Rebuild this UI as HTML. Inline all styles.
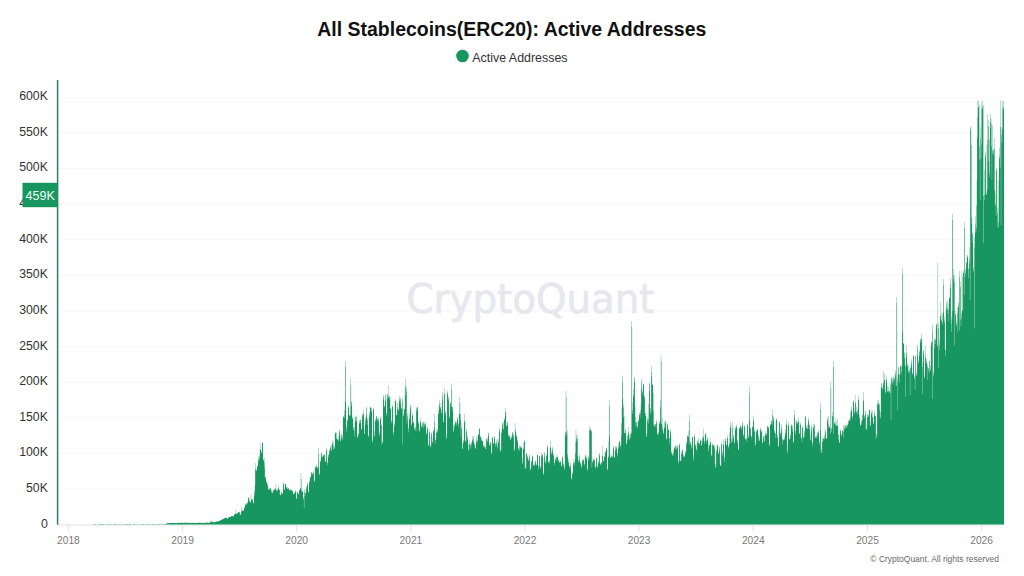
<!DOCTYPE html>
<html><head><meta charset="utf-8"><title>All Stablecoins(ERC20): Active Addresses</title>
<style>
html,body{margin:0;padding:0;background:#fff;}
body{width:1024px;height:576px;overflow:hidden;position:relative;font-family:"Liberation Sans",Arial,sans-serif;}
svg{position:absolute;left:0;top:0;}
</style></head><body>
<svg width="1024" height="576" viewBox="0 0 1024 576">
<rect width="1024" height="576" fill="#fff"/>
<text x="317.3" y="36.2" textLength="389" lengthAdjust="spacingAndGlyphs" font-family="Liberation Sans, Arial, sans-serif" font-weight="bold" font-size="20" fill="#111">All Stablecoins(ERC20): Active Addresses</text>
<circle cx="462.5" cy="56" r="6.3" fill="#17965f"/>
<text x="472.3" y="61.9" textLength="95.2" lengthAdjust="spacingAndGlyphs" font-family="Liberation Sans, Arial, sans-serif" font-size="13" fill="#333">Active Addresses</text>
<g><line x1="58.5" y1="489.0" x2="1004" y2="489.0" stroke="#f7f7f7" stroke-width="1"/><line x1="58.5" y1="453.4" x2="1004" y2="453.4" stroke="#f7f7f7" stroke-width="1"/><line x1="58.5" y1="417.8" x2="1004" y2="417.8" stroke="#f7f7f7" stroke-width="1"/><line x1="58.5" y1="382.1" x2="1004" y2="382.1" stroke="#f7f7f7" stroke-width="1"/><line x1="58.5" y1="346.5" x2="1004" y2="346.5" stroke="#f7f7f7" stroke-width="1"/><line x1="58.5" y1="310.9" x2="1004" y2="310.9" stroke="#f7f7f7" stroke-width="1"/><line x1="58.5" y1="275.3" x2="1004" y2="275.3" stroke="#f7f7f7" stroke-width="1"/><line x1="58.5" y1="239.7" x2="1004" y2="239.7" stroke="#f7f7f7" stroke-width="1"/><line x1="58.5" y1="204.0" x2="1004" y2="204.0" stroke="#f7f7f7" stroke-width="1"/><line x1="58.5" y1="168.4" x2="1004" y2="168.4" stroke="#f7f7f7" stroke-width="1"/><line x1="58.5" y1="132.8" x2="1004" y2="132.8" stroke="#f7f7f7" stroke-width="1"/><line x1="58.5" y1="97.2" x2="1004" y2="97.2" stroke="#f7f7f7" stroke-width="1"/></g>
<text x="406.5" y="313.2" textLength="248" lengthAdjust="spacingAndGlyphs" font-family="DejaVu Sans, sans-serif" font-size="40" fill="#e7e7ed" stroke="#e7e7ed" stroke-width="0.7">CryptoQuant</text>
<line x1="58.5" y1="525" x2="1004" y2="525" stroke="#e2e2e2" stroke-width="1"/>
<path d="M58.60,524.6V524.6H58.91V524.6H59.23V524.6H59.54V524.6H59.85V524.6H60.16V524.6H60.48V524.6H60.79V524.6H61.10V524.6H61.41V524.6H61.73V524.6H62.04V524.6H62.35V524.6H62.66V524.6H62.98V524.6H63.29V524.6H63.60V524.6H63.91V524.6H64.23V524.6H64.54V524.6H64.85V524.6H65.16V524.6H65.48V524.6H65.79V524.6H66.10V524.6H66.41V524.6H66.73V524.6H67.04V524.6H67.35V524.6H67.66V524.6H67.98V524.6H68.29V524.6H68.60V524.6H68.91V524.6H69.23V524.6H69.54V524.6H69.85V524.6H70.16V524.6H70.48V524.6H70.79V524.6H71.10V524.6H71.41V524.6H71.73V524.6H72.04V524.6H72.35V524.6H72.66V524.6H72.98V524.6H73.29V524.6H73.60V524.6H73.91V524.6H74.23V524.6H74.54V524.6H74.85V524.6H75.16V524.6H75.48V524.6H75.79V524.6H76.10V524.6H76.41V524.6H76.73V524.6H77.04V524.6H77.35V524.6H77.66V524.6H77.98V524.6H78.29V524.6H78.60V524.6H78.91V524.6H79.23V524.6H79.54V524.6H79.85V524.6H80.16V524.6H80.48V524.6H80.79V524.6H81.10V524.6H81.41V524.6H81.73V524.6H82.04V524.6H82.35V524.6H82.66V524.6H82.98V524.6H83.29V524.6H83.60V524.6H83.91V524.6H84.23V524.6H84.54V524.6H84.85V524.6H85.16V524.6H85.48V524.6H85.79V524.6H86.10V524.6H86.41V524.6H86.73V524.6H87.04V524.6H87.35V524.6H87.66V524.6H87.98V524.6H88.29V524.6H88.60V524.6H88.91V524.6H89.23V524.6H89.54V524.6H89.85V524.6H90.17V524.6H90.48V524.6H90.79V524.6H91.10V524.6H91.42V524.6H91.73V524.6H92.04V524.6H92.35V524.6H92.67V524.6H92.98V524.0H93.29V524.6H93.60V524.6H93.92V524.0H94.23V524.0H94.54V524.0H94.85V524.6H95.17V524.6H95.48V524.0H95.79V524.6H96.10V524.0H96.42V524.6H96.73V524.6H97.04V524.6H97.35V524.6H97.67V524.6H97.98V524.0H98.29V524.6H98.60V524.0H98.92V524.6H99.23V524.0H99.54V524.6H99.85V524.0H100.17V524.0H100.48V524.0H100.79V524.0H101.10V524.0H101.42V524.6H101.73V524.0H102.04V524.1H102.35V524.6H102.67V524.6H102.98V524.0H103.29V524.0H103.60V524.0H103.92V524.6H104.23V524.1H104.54V524.6H104.85V524.6H105.17V524.6H105.48V524.6H105.79V524.6H106.10V524.0H106.42V524.0H106.73V524.6H107.04V524.0H107.35V524.0H107.67V524.6H107.98V524.0H108.29V524.6H108.60V524.0H108.92V524.6H109.23V524.0H109.54V524.6H109.85V524.6H110.17V524.0H110.48V524.6H110.79V524.0H111.10V524.0H111.42V524.6H111.73V524.0H112.04V524.6H112.35V524.6H112.67V524.6H112.98V524.0H113.29V524.6H113.60V524.0H113.92V524.1H114.23V524.0H114.54V524.6H114.85V524.0H115.17V524.0H115.48V524.0H115.79V524.6H116.10V524.0H116.42V524.0H116.73V524.6H117.04V524.1H117.35V524.6H117.67V524.6H117.98V524.6H118.29V524.0H118.60V524.6H118.92V524.6H119.23V524.0H119.54V524.1H119.86V524.6H120.17V524.0H120.48V524.6H120.79V524.0H121.11V524.6H121.42V524.6H121.73V524.6H122.04V524.0H122.36V524.6H122.67V524.0H122.98V524.6H123.29V524.0H123.61V524.6H123.92V524.6H124.23V524.1H124.54V524.6H124.86V524.6H125.17V524.1H125.48V524.0H125.79V524.0H126.11V524.6H126.42V524.1H126.73V524.6H127.04V524.0H127.36V524.0H127.67V524.0H127.98V524.6H128.29V524.0H128.61V524.0H128.92V524.6H129.23V524.0H129.54V524.0H129.86V524.1H130.17V524.6H130.48V524.1H130.79V524.1H131.11V524.6H131.42V524.6H131.73V524.0H132.04V524.6H132.36V524.6H132.67V524.6H132.98V524.0H133.29V524.6H133.61V524.6H133.92V524.0H134.23V524.0H134.54V524.0H134.86V524.0H135.17V524.6H135.48V524.6H135.79V524.6H136.11V524.6H136.42V524.6H136.73V523.9H137.04V524.6H137.36V524.6H137.67V524.0H137.98V524.0H138.29V524.6H138.61V524.0H138.92V524.6H139.23V524.0H139.54V524.6H139.86V524.6H140.17V524.0H140.48V524.6H140.79V524.6H141.11V524.6H141.42V524.6H141.73V524.1H142.04V524.1H142.36V524.1H142.67V524.1H142.98V524.6H143.29V523.9H143.61V524.0H143.92V524.0H144.23V524.6H144.54V524.6H144.86V524.6H145.17V524.6H145.48V524.0H145.79V524.0H146.11V524.0H146.42V524.0H146.73V524.6H147.04V524.6H147.36V524.6H147.67V524.6H147.98V524.0H148.29V524.1H148.61V524.6H148.92V524.0H149.23V524.6H149.54V524.0H149.86V524.0H150.17V524.6H150.48V524.0H150.80V524.6H151.11V524.6H151.42V524.0H151.73V524.6H152.05V524.0H152.36V524.0H152.67V524.0H152.98V524.6H153.30V524.0H153.61V524.6H153.92V524.1H154.23V524.6H154.55V524.0H154.86V524.6H155.17V524.1H155.48V524.6H155.80V524.6H156.11V524.1H156.42V524.6H156.73V524.1H157.05V524.0H157.36V524.6H157.67V524.0H157.98V524.6H158.30V524.6H158.61V524.0H158.92V524.1H159.23V524.1H159.55V524.1H159.86V524.6H160.17V524.0H160.48V524.0H160.80V524.6H161.11V524.0H161.42V524.6H161.73V524.6H162.05V524.0H162.36V524.0H162.67V524.6H162.98V524.0H163.30V524.6H163.61V524.0H163.92V524.6H164.23V524.0H164.55V524.0H164.86V524.1H165.17V524.1H165.48V524.1H165.80V524.1H166.11V523.9H166.42V523.8H166.73V523.6H167.05V523.2H167.36V523.0H167.67V522.9H167.98V523.2H168.30V523.3H168.61V523.3H168.92V522.9H169.23V523.0H169.55V523.0H169.86V522.9H170.17V522.9H170.48V522.9H170.80V522.9H171.11V523.0H171.42V522.9H171.73V523.0H172.05V523.0H172.36V523.1H172.67V523.1H172.98V522.9H173.30V522.9H173.61V522.9H173.92V522.9H174.23V522.9H174.55V522.9H174.86V522.9H175.17V522.9H175.48V522.9H175.80V522.9H176.11V523.1H176.42V523.2H176.73V523.2H177.05V522.9H177.36V522.9H177.67V522.9H177.98V523.0H178.30V523.0H178.61V523.0H178.92V522.9H179.23V523.0H179.55V523.0H179.86V522.8H180.17V522.8H180.49V522.9H180.80V522.9H181.11V522.8H181.42V522.6H181.74V522.8H182.05V522.8H182.36V522.8H182.67V522.8H182.99V522.9H183.30V523.0H183.61V523.0H183.92V522.8H184.24V522.8H184.55V522.8H184.86V522.8H185.17V522.7H185.49V522.7H185.80V522.8H186.11V522.7H186.42V522.8H186.74V522.7H187.05V522.7H187.36V522.7H187.67V522.7H187.99V522.9H188.30V522.9H188.61V522.8H188.92V522.9H189.24V522.9H189.55V522.8H189.86V522.8H190.17V522.8H190.49V522.8H190.80V522.8H191.11V523.1H191.42V523.1H191.74V523.1H192.05V522.8H192.36V522.8H192.67V522.8H192.99V522.9H193.30V522.9H193.61V523.0H193.92V522.9H194.24V522.9H194.55V522.9H194.86V523.1H195.17V523.1H195.49V523.2H195.80V523.1H196.11V523.0H196.42V523.0H196.74V523.0H197.05V522.9H197.36V522.8H197.67V522.8H197.99V522.8H198.30V522.7H198.61V522.8H198.92V522.7H199.24V522.7H199.55V522.8H199.86V522.9H200.17V522.8H200.49V522.8H200.80V522.8H201.11V522.9H201.42V522.8H201.74V522.9H202.05V523.0H202.36V522.9H202.67V523.0H202.99V522.7H203.30V522.8H203.61V522.8H203.92V522.8H204.24V522.9H204.55V522.9H204.86V522.9H205.17V522.7H205.49V522.7H205.80V522.7H206.11V522.6H206.42V522.6H206.74V522.6H207.05V522.8H207.36V522.8H207.67V522.8H207.99V523.0H208.30V523.1H208.61V523.1H208.92V522.9H209.24V522.6H209.55V522.6H209.86V522.5H210.17V522.3H210.49V522.2H210.80V520.0H211.11V521.8H211.43V522.1H211.74V522.0H212.05V521.5H212.36V521.6H212.68V521.8H212.99V521.9H213.30V522.0H213.61V522.0H213.93V522.5H214.24V522.6H214.55V522.5H214.86V521.9H215.18V521.9H215.49V521.8H215.80V521.7H216.11V521.5H216.43V521.4H216.74V521.4H217.05V521.5H217.36V521.5H217.68V521.4H217.99V521.4H218.30V521.3H218.61V521.2H218.93V521.0H219.24V520.8H219.55V520.8H219.86V520.5H220.18V520.4H220.49V520.2H220.80V520.2H221.11V520.1H221.43V519.8H221.74V519.6H222.05V519.2H222.36V519.2H222.68V519.2H222.99V518.9H223.30V518.9H223.61V518.8H223.93V518.2H224.24V518.4H224.55V518.2H224.86V518.0H225.18V517.8H225.49V517.8H225.80V517.6H226.11V518.0H226.43V518.0H226.74V517.5H227.05V518.7H227.36V518.7H227.68V518.7H227.99V517.7H228.30V517.7H228.61V517.3H228.93V517.1H229.24V516.5H229.55V517.0H229.86V517.2H230.18V517.2H230.49V517.0H230.80V517.2H231.11V516.1H231.43V515.6H231.74V515.9H232.05V516.4H232.36V516.1H232.68V515.9H232.99V516.3H233.30V516.6H233.61V516.1H233.93V514.7H234.24V514.5H234.55V514.0H234.86V514.4H235.18V514.0H235.49V513.4H235.80V509.3H236.11V513.8H236.43V513.9H236.74V513.7H237.05V513.2H237.36V512.9H237.68V512.8H237.99V512.4H238.30V512.1H238.61V512.1H238.93V512.5H239.24V512.3H239.55V511.6H239.86V514.9H240.18V514.5H240.49V514.4H240.80V514.6H241.11V506.0H241.43V512.0H241.74V510.3H242.05V510.5H242.37V510.6H242.68V510.6H242.99V510.7H243.30V511.1H243.62V510.5H243.93V508.0H244.24V507.9H244.55V507.5H244.87V505.3H245.18V505.2H245.49V503.9H245.80V503.3H246.12V504.9H246.43V503.6H246.74V503.6H247.05V503.0H247.37V503.5H247.68V501.8H247.99V497.9H248.30V497.0H248.62V497.7H248.93V501.4H249.24V500.5H249.55V500.2H249.87V503.1H250.18V501.7H250.49V502.7H250.80V494.3H251.12V498.8H251.43V498.9H251.74V500.4H252.05V498.8H252.37V499.6H252.68V500.4H252.99V503.1H253.30V503.7H253.62V503.1H253.93V496.1H254.24V493.2H254.55V490.4H254.87V484.9H255.18V463.0H255.49V469.0H255.80V469.4H256.12V469.5H256.43V470.5H256.74V470.8H257.05V465.5H257.37V466.5H257.68V465.9H257.99V462.1H258.30V459.2H258.62V455.8H258.93V459.9H259.24V458.0H259.55V455.6H259.87V449.3H260.18V443.0H260.49V449.0H260.80V450.2H261.12V451.9H261.43V451.7H261.74V453.4H262.05V442.9H262.37V442.3H262.68V443.0H262.99V459.9H263.30V459.1H263.62V460.9H263.93V456.8H264.24V462.4H264.55V467.6H264.87V476.9H265.18V476.4H265.49V477.5H265.80V478.8H266.12V482.5H266.43V481.4H266.74V481.9H267.05V484.2H267.37V483.6H267.68V486.6H267.99V488.3H268.30V490.0H268.62V489.4H268.93V489.6H269.24V489.3H269.55V487.5H269.87V488.7H270.18V487.9H270.49V489.3H270.80V488.0H271.12V491.3H271.43V490.6H271.74V492.9H272.06V491.9H272.37V492.4H272.68V493.5H272.99V490.4H273.31V489.4H273.62V490.5H273.93V490.5H274.24V489.4H274.56V489.4H274.87V488.0H275.18V489.2H275.49V488.7H275.81V484.0H276.12V490.7H276.43V490.8H276.74V489.7H277.06V488.2H277.37V490.0H277.68V491.0H277.99V485.7H278.31V488.9H278.62V488.1H278.93V489.7H279.24V490.0H279.56V490.1H279.87V494.8H280.18V495.4H280.49V494.5H280.81V494.8H281.12V491.0H281.43V492.1H281.74V493.0H282.06V493.8H282.37V493.1H282.68V493.7H282.99V484.3H283.31V483.9H283.62V482.3H283.93V489.4H284.24V489.4H284.56V489.5H284.87V484.0H285.18V483.8H285.49V484.6H285.81V484.3H286.12V487.4H286.43V486.9H286.74V488.1H287.06V487.0H287.37V489.1H287.68V488.9H287.99V488.5H288.31V487.8H288.62V488.4H288.93V489.9H289.24V490.5H289.56V490.2H289.87V490.6H290.18V489.2H290.49V489.5H290.81V490.4H291.12V490.0H291.43V489.9H291.74V490.5H292.06V491.6H292.37V490.3H292.68V491.7H292.99V494.3H293.31V493.7H293.62V494.0H293.93V493.2H294.24V492.8H294.56V493.8H294.87V490.9H295.18V491.9H295.49V489.7H295.81V491.7H296.12V497.9H296.43V498.9H296.74V499.0H297.06V492.7H297.37V492.2H297.68V491.6H297.99V493.9H298.31V494.5H298.62V493.8H298.93V491.2H299.24V489.9H299.56V490.0H299.87V488.9H300.18V488.3H300.49V487.9H300.81V473.0H301.12V479.0H301.43V490.7H301.74V491.5H302.06V489.6H302.37V491.9H302.68V491.8H303.00V497.0H303.31V499.6H303.62V498.2H303.93V508.0H304.25V491.8H304.56V488.9H304.87V495.9H305.18V493.2H305.50V493.0H305.81V492.7H306.12V488.9H306.43V487.1H306.75V486.6H307.06V484.7H307.37V484.8H307.68V482.7H308.00V491.8H308.31V492.6H308.62V491.1H308.93V481.9H309.25V483.0H309.56V480.4H309.87V476.8H310.18V478.2H310.50V476.5H310.81V476.8H311.12V473.2H311.43V472.1H311.75V472.5H312.06V473.6H312.37V475.0H312.68V473.0H313.00V471.1H313.31V472.6H313.62V473.7H313.93V481.3H314.25V481.7H314.56V479.7H314.87V468.0H315.18V466.4H315.50V467.0H315.81V467.8H316.12V466.9H316.43V465.5H316.75V465.2H317.06V467.6H317.37V467.5H317.68V468.7H318.00V448.0H318.31V454.0H318.62V466.9H318.93V475.2H319.25V473.0H319.56V474.5H319.87V461.3H320.18V460.9H320.50V462.2H320.81V458.1H321.12V454.3H321.43V452.9H321.75V452.4H322.06V456.4H322.37V457.0H322.68V456.5H323.00V456.5H323.31V454.0H323.62V455.4H323.93V455.0H324.25V454.5H324.56V454.6H324.87V459.9H325.18V461.9H325.50V461.6H325.81V462.1H326.12V450.9H326.43V449.2H326.75V448.8H327.06V465.2H327.37V461.8H327.68V462.4H328.00V454.4H328.31V455.0H328.62V457.1H328.93V454.0H329.25V449.1H329.56V450.7H329.87V450.4H330.18V447.2H330.50V447.6H330.81V444.7H331.12V451.1H331.43V449.5H331.75V445.0H332.06V444.0H332.37V442.8H332.69V440.3H333.00V446.2H333.31V449.3H333.62V442.0H333.94V448.9H334.25V448.3H334.56V446.3H334.87V432.8H335.19V432.4H335.50V433.9H335.81V431.5H336.12V433.1H336.44V438.3H336.75V438.9H337.06V440.3H337.37V439.2H337.69V439.0H338.00V441.3H338.31V436.8H338.62V439.9H338.94V432.5H339.25V431.0H339.56V429.5H339.87V435.5H340.19V440.8H340.50V441.6H340.81V439.1H341.12V435.2H341.44V432.9H341.75V437.2H342.06V440.0H342.37V434.6H342.69V438.6H343.00V417.4H343.31V416.4H343.62V416.7H343.94V414.8H344.25V410.2H344.56V418.2H344.87V401.3H345.19V360.7H345.50V366.7H345.81V402.5H346.12V428.4H346.44V425.8H346.75V432.4H347.06V420.3H347.37V420.7H347.69V418.9H348.00V406.9H348.31V405.6H348.62V407.9H348.94V414.2H349.25V415.7H349.56V415.5H349.87V415.4H350.19V415.2H350.50V379.0H350.81V385.0H351.12V402.6H351.44V406.0H351.75V401.0H352.06V419.0H352.37V416.7H352.69V418.3H353.00V427.2H353.31V427.8H353.62V429.9H353.94V430.8H354.25V427.0H354.56V436.7H354.87V416.7H355.19V416.6H355.50V420.4H355.81V421.7H356.12V415.3H356.44V421.2H356.75V416.9H357.06V436.1H357.37V437.7H357.69V437.5H358.00V433.9H358.31V433.4H358.62V435.5H358.94V423.7H359.25V422.9H359.56V419.9H359.87V420.0H360.19V423.0H360.50V419.9H360.81V418.9H361.12V429.7H361.44V428.6H361.75V429.2H362.06V417.1H362.37V414.9H362.69V413.0H363.00V414.7H363.31V409.5H363.63V413.8H363.94V428.8H364.25V433.3H364.56V434.1H364.88V420.0H365.19V424.8H365.50V418.6H365.81V417.6H366.13V407.7H366.44V414.7H366.75V407.1H367.06V420.3H367.38V417.8H367.69V424.8H368.00V436.1H368.31V436.9H368.63V434.4H368.94V414.5H369.25V417.0H369.56V412.4H369.88V406.4H370.19V407.6H370.50V407.6H370.81V408.3H371.13V407.2H371.44V411.0H371.75V412.0H372.06V438.8H372.38V440.9H372.69V442.8H373.00V408.4H373.31V408.5H373.63V409.5H373.94V435.8H374.25V436.7H374.56V430.9H374.88V418.5H375.19V420.1H375.50V421.5H375.81V420.2H376.13V415.9H376.44V415.7H376.75V417.6H377.06V418.3H377.38V418.9H377.69V420.5H378.00V419.7H378.31V421.6H378.63V417.2H378.94V435.8H379.25V434.1H379.56V431.4H379.88V417.9H380.19V419.7H380.50V418.2H380.81V415.3H381.13V425.1H381.44V425.5H381.75V444.7H382.06V441.6H382.38V442.6H382.69V442.8H383.00V399.5H383.31V396.7H383.63V394.8H383.94V407.6H384.25V405.8H384.56V406.6H384.88V401.8H385.19V399.8H385.50V394.7H385.81V394.4H386.13V412.4H386.44V415.9H386.75V414.1H387.06V393.6H387.38V394.7H387.69V398.7H388.00V397.2H388.31V396.6H388.63V385.0H388.94V396.5H389.25V395.4H389.56V399.2H389.88V396.9H390.19V408.5H390.50V408.5H390.81V408.8H391.13V423.4H391.44V420.5H391.75V421.1H392.06V404.8H392.38V407.0H392.69V406.8H393.00V432.4H393.31V435.0H393.63V431.5H393.94V427.1H394.25V422.5H394.57V424.6H394.88V399.0H395.19V400.9H395.50V400.5H395.82V402.5H396.13V415.6H396.44V415.1H396.75V414.9H397.07V409.5H397.38V407.1H397.69V402.7H398.00V408.9H398.32V409.9H398.63V411.4H398.94V401.3H399.25V395.8H399.57V399.0H399.88V402.6H400.19V399.3H400.50V397.4H400.82V404.8H401.13V407.9H401.44V408.6H401.75V408.7H402.07V400.7H402.38V444.7H402.69V397.4H403.00V415.4H403.32V415.8H403.63V413.3H403.94V408.6H404.25V409.3H404.57V409.3H404.88V387.5H405.19V395.6H405.50V379.0H405.82V385.0H406.13V388.3H406.44V391.8H406.75V423.4H407.07V413.1H407.38V419.4H407.69V415.8H408.00V427.1H408.32V429.1H408.63V432.5H408.94V413.9H409.25V418.7H409.57V419.4H409.88V410.6H410.19V407.8H410.50V405.2H410.82V404.4H411.13V423.2H411.44V425.9H411.75V424.3H412.07V414.8H412.38V412.9H412.69V416.1H413.00V422.7H413.32V421.2H413.63V422.6H413.94V424.3H414.25V428.1H414.57V429.9H414.88V429.7H415.19V426.4H415.50V427.4H415.82V431.2H416.13V407.4H416.44V411.4H416.75V408.3H417.07V406.6H417.38V409.4H417.69V407.6H418.00V421.3H418.32V422.4H418.63V423.7H418.94V430.2H419.25V431.1H419.57V431.4H419.88V421.6H420.19V418.2H420.50V422.2H420.82V423.1H421.13V426.3H421.44V426.2H421.75V428.6H422.07V425.7H422.38V423.8H422.69V421.7H423.00V422.0H423.32V422.5H423.63V428.1H423.94V424.1H424.26V426.6H424.57V422.7H424.88V423.8H425.19V421.5H425.51V424.7H425.82V426.2H426.13V434.2H426.44V433.1H426.76V433.9H427.07V427.7H427.38V427.4H427.69V429.7H428.01V445.6H428.32V444.2H428.63V445.7H428.94V429.6H429.26V432.3H429.57V432.4H429.88V443.9H430.19V447.4H430.51V445.4H430.82V446.5H431.13V432.2H431.44V433.2H431.76V435.4H432.07V442.4H432.38V438.2H432.69V442.3H433.01V432.2H433.32V430.2H433.63V430.4H433.94V427.5H434.26V413.6H434.57V421.9H434.88V444.2H435.19V440.2H435.51V439.5H435.82V439.1H436.13V432.7H436.44V432.4H436.76V428.9H437.07V432.2H437.38V430.5H437.69V429.3H438.01V414.1H438.32V413.5H438.63V409.9H438.94V405.7H439.26V399.6H439.57V403.4H439.88V409.2H440.19V407.7H440.51V407.1H440.82V403.1H441.13V413.2H441.44V413.3H441.76V409.7H442.07V395.7H442.38V400.6H442.69V391.8H443.01V422.3H443.32V422.2H443.63V418.9H443.94V393.3H444.26V394.4H444.57V387.9H444.88V413.7H445.19V411.9H445.51V410.2H445.82V415.4H446.13V438.9H446.44V438.2H446.76V433.9H447.07V394.0H447.38V392.6H447.69V390.6H448.01V397.9H448.32V400.6H448.63V396.4H448.94V418.3H449.26V417.3H449.57V415.3H449.88V402.0H450.19V403.2H450.51V403.1H450.82V406.1H451.13V407.1H451.44V383.6H451.76V389.6H452.07V407.1H452.38V410.9H452.69V407.2H453.01V424.7H453.32V431.8H453.63V431.6H453.94V425.8H454.26V424.2H454.57V427.6H454.88V420.6H455.20V422.2H455.51V421.6H455.82V424.0H456.13V422.0H456.45V424.9H456.76V422.6H457.07V418.7H457.38V416.9H457.70V419.3H458.01V422.9H458.32V426.9H458.63V424.0H458.95V414.6H459.26V413.9H459.57V397.0H459.88V403.0H460.20V414.0H460.51V420.0H460.82V436.5H461.13V423.1H461.45V429.5H461.76V427.7H462.07V449.1H462.38V442.8H462.70V448.6H463.01V439.5H463.32V440.9H463.63V443.5H463.95V422.5H464.26V421.4H464.57V414.0H464.88V420.0H465.20V440.8H465.51V440.9H465.82V442.3H466.13V430.7H466.45V428.7H466.76V432.3H467.07V436.3H467.38V438.5H467.70V439.5H468.01V444.9H468.32V450.0H468.63V450.4H468.95V443.8H469.26V444.6H469.57V440.6H469.88V449.3H470.20V444.7H470.51V444.1H470.82V447.2H471.13V442.5H471.45V444.4H471.76V442.3H472.07V439.4H472.38V440.5H472.70V436.2H473.01V435.7H473.32V438.8H473.63V441.9H473.95V443.2H474.26V445.8H474.57V443.4H474.88V448.0H475.20V448.4H475.51V448.4H475.82V445.0H476.13V436.0H476.45V441.9H476.76V439.7H477.07V437.0H477.38V440.5H477.70V442.0H478.01V434.2H478.32V434.5H478.63V434.6H478.95V428.5H479.26V428.4H479.57V428.8H479.88V435.4H480.20V437.5H480.51V436.8H480.82V436.7H481.13V438.2H481.45V440.0H481.76V441.0H482.07V441.2H482.38V441.6H482.70V440.6H483.01V447.0H483.32V444.5H483.63V444.9H483.95V447.3H484.26V447.6H484.57V445.1H484.89V446.2H485.20V446.9H485.51V449.0H485.82V449.3H486.14V439.8H486.45V438.7H486.76V438.3H487.07V441.9H487.39V437.5H487.70V440.9H488.01V432.8H488.32V433.3H488.64V436.1H488.95V442.9H489.26V446.0H489.57V444.6H489.89V444.9H490.20V441.7H490.51V442.9H490.82V442.1H491.14V451.9H491.45V454.0H491.76V453.0H492.07V438.1H492.39V436.7H492.70V437.4H493.01V444.3H493.32V442.9H493.64V443.0H493.95V438.7H494.26V437.0H494.57V436.0H494.89V443.4H495.20V443.5H495.51V446.7H495.82V443.6H496.14V441.6H496.45V444.5H496.76V440.3H497.07V447.0H497.39V448.6H497.70V438.4H498.01V442.9H498.32V439.5H498.64V442.6H498.95V431.9H499.26V427.5H499.57V430.0H499.89V450.2H500.20V450.8H500.51V452.0H500.82V449.5H501.14V432.4H501.45V433.3H501.76V429.4H502.07V423.8H502.39V422.5H502.70V425.8H503.01V429.2H503.32V429.0H503.64V422.3H503.95V419.9H504.26V418.2H504.57V419.9H504.89V416.3H505.20V412.2H505.51V408.0H505.82V412.6H506.14V425.5H506.45V425.4H506.76V427.3H507.07V421.8H507.39V425.0H507.70V422.3H508.01V433.5H508.32V435.3H508.64V436.6H508.95V436.1H509.26V434.4H509.57V436.9H509.89V437.0H510.20V440.0H510.51V439.8H510.82V438.7H511.14V436.8H511.45V437.7H511.76V436.4H512.07V432.1H512.39V434.3H512.70V432.5H513.01V434.4H513.32V435.1H513.64V437.4H513.95V451.1H514.26V447.9H514.57V450.2H514.89V423.0H515.20V429.0H515.51V431.4H515.83V432.4H516.14V436.1H516.45V435.8H516.76V436.8H517.08V439.2H517.39V440.4H517.70V442.6H518.01V448.3H518.33V449.9H518.64V447.5H518.95V450.8H519.26V448.5H519.58V445.0H519.89V446.6H520.20V448.1H520.51V446.7H520.83V445.0H521.14V448.0H521.45V447.1H521.76V448.2H522.08V463.6H522.39V458.6H522.70V463.4H523.01V449.1H523.33V442.2H523.64V448.3H523.95V440.5H524.26V440.4H524.58V441.9H524.89V468.9H525.20V466.5H525.51V468.0H525.83V468.4H526.14V453.8H526.45V453.0H526.76V453.7H527.08V455.5H527.39V457.9H527.70V456.4H528.01V458.8H528.33V460.9H528.64V460.7H528.95V455.9H529.26V453.9H529.58V458.6H529.89V468.4H530.20V470.4H530.51V469.0H530.83V467.6H531.14V461.5H531.45V460.8H531.76V462.3H532.08V455.0H532.39V456.5H532.70V456.6H533.01V465.8H533.33V465.5H533.64V462.7H533.95V465.5H534.26V465.5H534.58V464.6H534.89V463.4H535.20V460.8H535.51V461.6H535.83V460.9H536.14V465.4H536.45V463.8H536.76V465.2H537.08V455.1H537.39V454.7H537.70V454.8H538.01V466.0H538.33V465.5H538.64V469.5H538.95V455.7H539.26V456.8H539.58V455.9H539.89V467.5H540.20V468.7H540.51V467.3H540.83V465.4H541.14V453.1H541.45V455.5H541.76V455.5H542.08V455.0H542.39V457.9H542.70V453.7H543.01V473.8H543.33V475.0H543.64V472.2H543.95V452.6H544.26V456.8H544.58V452.4H544.89V462.4H545.20V459.8H545.51V462.2H545.83V463.7H546.14V456.1H546.45V455.3H546.77V453.4H547.08V444.9H547.39V446.3H547.70V447.7H548.02V462.0H548.33V461.6H548.64V462.4H548.95V461.2H549.27V464.4H549.58V460.5H549.89V447.7H550.20V440.5H550.52V446.6H550.83V448.4H551.14V451.8H551.45V454.3H551.77V453.8H552.08V450.9H552.39V446.7H552.70V448.4H553.02V455.8H553.33V454.7H553.64V453.8H553.95V462.2H554.27V462.8H554.58V464.9H554.89V459.5H555.20V459.0H555.52V457.1H555.83V461.2H556.14V457.4H556.45V454.7H556.77V457.6H557.08V456.2H557.39V457.5H557.70V456.9H558.02V459.1H558.33V460.6H558.64V460.7H558.95V462.9H559.27V462.8H559.58V461.3H559.89V461.3H560.20V461.7H560.52V460.8H560.83V463.3H561.14V466.4H561.45V465.4H561.77V466.6H562.08V457.0H562.39V458.2H562.70V455.7H563.02V464.3H563.33V462.3H563.64V464.7H563.95V468.3H564.27V470.2H564.58V467.1H564.89V433.1H565.20V431.7H565.52V436.6H565.83V391.0H566.14V397.0H566.45V432.2H566.77V434.5H567.08V430.1H567.39V454.2H567.70V457.2H568.02V459.0H568.33V461.8H568.64V463.0H568.95V466.0H569.27V467.8H569.58V465.0H569.89V466.4H570.20V461.8H570.52V465.3H570.83V469.6H571.14V480.0H571.45V477.7H571.77V478.0H572.08V474.1H572.39V472.3H572.70V473.3H573.02V462.7H573.33V463.8H573.64V459.2H573.95V465.4H574.27V462.9H574.58V462.1H574.89V458.8H575.20V453.6H575.52V442.0H575.83V429.0H576.14V435.0H576.46V438.5H576.77V441.7H577.08V436.0H577.39V439.0H577.71V456.5H578.02V459.6H578.33V460.2H578.64V462.0H578.96V453.8H579.27V456.0H579.58V460.4H579.89V463.1H580.21V463.2H580.52V462.8H580.83V463.8H581.14V467.3H581.46V467.2H581.77V465.0H582.08V458.4H582.39V460.8H582.71V460.3H583.02V459.1H583.33V459.9H583.64V460.7H583.96V464.3H584.27V465.4H584.58V463.5H584.89V456.7H585.21V455.1H585.52V455.2H585.83V457.4H586.14V458.1H586.46V459.6H586.77V455.5H587.08V469.7H587.39V468.3H587.71V470.6H588.02V460.3H588.33V455.4H588.64V457.3H588.96V457.9H589.27V430.4H589.58V426.0H589.89V429.9H590.21V429.8H590.52V428.4H590.83V428.9H591.14V430.9H591.46V431.6H591.77V467.7H592.08V460.8H592.39V463.0H592.71V460.5H593.02V458.1H593.33V459.2H593.64V460.9H593.96V459.9H594.27V460.7H594.58V459.0H594.89V466.4H595.21V466.2H595.52V468.5H595.83V467.2H596.14V457.2H596.46V458.6H596.77V458.1H597.08V465.3H597.39V467.8H597.71V466.9H598.02V462.0H598.33V461.4H598.64V463.7H598.96V455.7H599.27V454.1H599.58V453.0H599.89V463.1H600.21V463.7H600.52V464.5H600.83V465.3H601.14V463.1H601.46V461.7H601.77V463.1H602.08V445.7H602.39V455.4H602.71V456.1H603.02V461.0H603.33V461.5H603.64V460.7H603.96V456.2H604.27V457.7H604.58V456.7H604.89V452.0H605.21V451.4H605.52V453.5H605.83V450.5H606.14V448.3H606.46V448.5H606.77V447.5H607.08V470.3H607.40V469.2H607.71V467.9H608.02V456.2H608.33V457.4H608.65V441.6H608.96V400.0H609.27V406.0H609.58V435.7H609.90V455.5H610.21V458.1H610.52V458.0H610.83V457.1H611.15V456.3H611.46V456.7H611.77V453.5H612.08V456.2H612.40V457.4H612.71V455.3H613.02V445.7H613.33V448.4H613.65V446.8H613.96V457.3H614.27V457.4H614.58V457.8H614.90V449.7H615.21V446.5H615.52V450.8H615.83V446.4H616.15V449.1H616.46V447.7H616.77V445.9H617.08V453.2H617.40V453.6H617.71V456.3H618.02V446.8H618.33V448.7H618.65V443.0H618.96V441.1H619.27V440.3H619.58V442.1H619.90V446.1H620.21V447.2H620.52V443.4H620.83V445.1H621.15V435.7H621.46V423.3H621.77V408.2H622.08V375.6H622.40V381.6H622.71V398.9H623.02V403.9H623.33V407.5H623.65V417.6H623.96V415.7H624.27V433.1H624.58V433.2H624.90V433.2H625.21V429.3H625.52V429.5H625.83V432.7H626.15V443.5H626.46V444.6H626.77V442.7H627.08V435.4H627.40V440.0H627.71V435.8H628.02V426.8H628.33V431.8H628.65V433.5H628.96V436.1H629.27V439.7H629.58V439.3H629.90V435.5H630.21V432.3H630.52V438.0H630.83V434.1H631.15V433.6H631.46V321.0H631.77V327.0H632.08V413.7H632.40V410.6H632.71V403.0H633.02V396.4H633.33V388.7H633.65V394.7H633.96V378.5H634.27V376.7H634.58V381.9H634.90V406.5H635.21V417.1H635.52V422.9H635.83V427.6H636.15V422.1H636.46V422.0H636.77V425.6H637.09V428.3H637.40V426.4H637.71V422.0H638.02V422.0H638.34V420.7H638.65V419.3H638.96V411.9H639.27V414.5H639.59V414.7H639.90V418.2H640.21V413.5H640.52V410.1H640.84V404.8H641.15V388.4H641.46V381.7H641.77V378.4H642.09V394.3H642.40V390.4H642.71V392.1H643.02V384.6H643.34V384.0H643.65V384.7H643.96V396.1H644.27V395.9H644.59V398.2H644.90V413.3H645.21V415.9H645.52V413.0H645.84V415.9H646.15V436.0H646.46V437.3H646.77V433.6H647.09V419.1H647.40V418.5H647.71V421.6H648.02V419.3H648.34V423.8H648.65V404.0H648.96V391.0H649.27V383.9H649.59V382.1H649.90V408.5H650.21V414.3H650.52V407.6H650.84V412.5H651.15V376.5H651.46V366.0H651.77V372.0H652.09V385.0H652.40V384.0H652.71V385.3H653.02V393.0H653.34V410.9H653.65V425.5H653.96V426.8H654.27V423.9H654.59V425.8H654.90V424.9H655.21V424.3H655.52V423.9H655.84V427.8H656.15V423.3H656.46V420.9H656.77V419.5H657.09V434.9H657.40V433.9H657.71V433.2H658.02V431.6H658.34V432.7H658.65V434.9H658.96V424.0H659.27V423.2H659.59V421.9H659.90V420.4H660.21V407.2H660.52V399.7H660.84V355.0H661.15V361.0H661.46V423.7H661.77V424.3H662.09V418.0H662.40V430.3H662.71V427.7H663.02V431.1H663.34V432.9H663.65V433.9H663.96V421.4H664.27V428.0H664.59V427.6H664.90V420.9H665.21V424.3H665.52V422.5H665.84V419.9H666.15V437.9H666.46V439.0H666.77V439.7H667.09V424.1H667.40V423.2H667.71V425.8H668.03V430.0H668.34V429.7H668.65V428.8H668.96V438.3H669.28V438.2H669.59V443.5H669.90V431.0H670.21V429.5H670.53V431.9H670.84V435.4H671.15V452.8H671.46V451.3H671.78V454.0H672.09V453.7H672.40V456.1H672.71V453.9H673.03V449.9H673.34V455.8H673.65V452.3H673.96V447.1H674.28V448.6H674.59V447.6H674.90V446.7H675.21V445.0H675.53V449.5H675.84V445.7H676.15V446.1H676.46V448.7H676.78V449.1H677.09V445.8H677.40V447.9H677.71V445.4H678.03V462.9H678.34V462.5H678.65V459.9H678.96V444.6H679.28V445.3H679.59V443.8H679.90V461.2H680.21V461.1H680.53V460.1H680.84V460.7H681.15V452.7H681.46V454.1H681.78V450.7H682.09V448.9H682.40V449.9H682.71V451.4H683.03V455.4H683.34V454.9H683.65V457.6H683.96V456.9H684.28V456.1H684.59V456.7H684.90V451.5H685.21V451.6H685.53V454.1H685.84V451.8H686.15V444.5H686.46V441.4H686.78V443.0H687.09V436.6H687.40V436.6H687.71V434.8H688.03V436.0H688.34V437.4H688.65V430.9H688.96V415.0H689.28V421.0H689.59V444.7H689.90V442.7H690.21V440.9H690.53V443.8H690.84V442.2H691.15V448.6H691.46V444.8H691.78V447.0H692.09V437.2H692.40V437.2H692.71V437.0H693.03V454.2H693.34V460.4H693.65V457.4H693.96V436.6H694.28V433.7H694.59V436.6H694.90V444.6H695.21V446.2H695.53V444.7H695.84V444.3H696.15V449.3H696.46V448.8H696.78V451.4H697.09V441.0H697.40V440.3H697.71V442.9H698.03V437.6H698.34V443.0H698.65V442.8H698.97V445.1H699.28V443.9H699.59V443.3H699.90V440.8H700.22V440.8H700.53V439.3H700.84V441.0H701.15V445.7H701.47V445.5H701.78V439.8H702.09V442.4H702.40V438.6H702.72V435.7H703.03V437.0H703.34V428.8H703.65V437.4H703.97V441.6H704.28V440.9H704.59V444.1H704.90V434.4H705.22V435.0H705.53V433.3H705.84V432.7H706.15V441.1H706.47V443.1H706.78V440.2H707.09V438.3H707.40V440.3H707.72V437.0H708.03V443.0H708.34V451.6H708.65V448.5H708.97V445.9H709.28V445.0H709.59V445.1H709.90V437.4H710.22V441.9H710.53V441.7H710.84V443.9H711.15V454.6H711.47V456.5H711.78V455.4H712.09V445.3H712.40V444.7H712.72V442.9H713.03V446.0H713.34V444.8H713.65V445.0H713.97V446.7H714.28V448.7H714.59V444.8H714.90V464.2H715.22V463.0H715.53V467.7H715.84V467.2H716.15V451.8H716.47V449.9H716.78V447.0H717.09V444.6H717.40V445.5H717.72V445.2H718.03V452.5H718.34V454.0H718.65V452.8H718.97V446.8H719.28V450.3H719.59V447.4H719.90V463.4H720.22V466.0H720.53V465.5H720.84V466.1H721.15V444.6H721.47V442.0H721.78V444.0H722.09V452.9H722.40V456.0H722.72V451.7H723.03V444.8H723.34V444.2H723.65V439.6H723.97V457.7H724.28V461.7H724.59V456.9H724.90V439.3H725.22V440.9H725.53V438.0H725.84V441.5H726.15V445.3H726.47V445.3H726.78V444.4H727.09V435.3H727.40V438.6H727.72V437.9H728.03V448.5H728.34V446.2H728.66V446.7H728.97V432.9H729.28V443.9H729.59V444.6H729.91V427.5H730.22V421.2H730.53V427.3H730.84V424.7H731.16V439.0H731.47V442.9H731.78V441.4H732.09V422.0H732.41V428.0H732.72V441.6H733.03V438.1H733.34V435.4H733.66V435.2H733.97V443.2H734.28V442.9H734.59V440.6H734.91V426.6H735.22V430.8H735.53V428.2H735.84V428.0H736.16V424.5H736.47V426.2H736.78V427.0H737.09V440.8H737.41V443.0H737.72V439.6H738.03V449.9H738.34V447.7H738.66V450.3H738.97V427.7H739.28V428.5H739.59V428.4H739.91V425.2H740.22V427.2H740.53V425.3H740.84V428.0H741.16V426.8H741.47V430.0H741.78V427.4H742.09V425.2H742.41V422.5H742.72V422.6H743.03V436.6H743.34V434.1H743.66V434.8H743.97V426.6H744.28V425.6H744.59V426.6H744.91V438.7H745.22V437.8H745.53V439.7H745.84V439.0H746.16V438.0H746.47V439.0H746.78V441.9H747.09V425.7H747.41V423.9H747.72V424.6H748.03V433.9H748.34V437.3H748.66V437.5H748.97V386.8H749.28V392.8H749.59V420.6H749.91V427.4H750.22V427.8H750.53V429.3H750.84V436.3H751.16V438.6H751.47V435.7H751.78V436.6H752.09V426.5H752.41V427.8H752.72V426.8H753.03V415.6H753.34V421.6H753.66V419.8H753.97V428.2H754.28V432.1H754.59V431.1H754.91V446.0H755.22V444.7H755.53V442.4H755.84V429.9H756.16V432.0H756.47V430.6H756.78V432.7H757.09V429.5H757.41V429.7H757.72V428.9H758.03V435.6H758.34V440.6H758.66V435.8H758.97V438.2H759.28V440.9H759.60V440.6H759.91V429.9H760.22V428.8H760.53V427.5H760.85V432.7H761.16V430.8H761.47V430.4H761.78V431.9H762.10V442.7H762.41V443.3H762.72V442.6H763.03V438.6H763.35V435.8H763.66V436.2H763.97V441.6H764.28V436.1H764.60V441.8H764.91V433.3H765.22V431.2H765.53V435.3H765.85V434.0H766.16V435.4H766.47V434.4H766.78V432.8H767.10V427.2H767.41V425.8H767.72V426.0H768.03V426.7H768.35V427.2H768.66V428.6H768.97V443.1H769.28V445.7H769.60V445.4H769.91V423.9H770.22V424.7H770.53V425.2H770.85V421.2H771.16V420.3H771.47V424.2H771.78V421.1H772.10V424.8H772.41V409.0H772.72V415.0H773.03V416.3H773.35V418.1H773.66V420.8H773.97V430.0H774.28V432.4H774.60V430.0H774.91V433.0H775.22V433.7H775.53V438.1H775.85V420.8H776.16V419.2H776.47V419.7H776.78V418.1H777.10V438.3H777.41V434.7H777.72V437.2H778.03V446.5H778.35V446.2H778.66V445.7H778.97V421.9H779.28V420.5H779.60V423.3H779.91V436.1H780.22V432.4H780.53V433.7H780.85V432.8H781.16V423.8H781.47V429.8H781.78V426.9H782.10V438.7H782.41V439.3H782.72V444.5H783.03V440.7H783.35V439.8H783.66V440.1H783.97V438.6H784.28V440.0H784.60V436.4H784.91V429.5H785.22V432.7H785.53V434.5H785.85V423.8H786.16V419.2H786.47V425.8H786.78V424.6H787.10V453.6H787.41V451.1H787.72V445.0H788.03V424.9H788.35V425.1H788.66V421.7H788.97V439.1H789.29V440.0H789.60V437.7H789.91V439.1H790.22V435.9H790.54V433.9H790.85V426.0H791.16V425.2H791.47V424.0H791.79V425.9H792.10V431.7H792.41V425.2H792.72V428.5H793.04V442.1H793.35V441.5H793.66V442.5H793.97V417.8H794.29V415.0H794.60V410.2H794.91V431.1H795.22V430.8H795.54V435.1H795.85V421.7H796.16V423.8H796.47V419.5H796.79V421.6H797.10V422.0H797.41V422.9H797.72V424.5H798.04V421.0H798.35V417.5H798.66V422.1H798.97V433.7H799.29V432.6H799.60V434.0H799.91V423.6H800.22V422.9H800.54V425.0H800.85V437.5H801.16V438.4H801.47V437.4H801.79V442.1H802.10V425.5H802.41V427.6H802.72V427.9H803.04V437.7H803.35V438.1H803.66V436.0H803.97V430.9H804.29V437.1H804.60V432.5H804.91V415.7H805.22V417.4H805.54V416.0H805.85V425.9H806.16V428.6H806.47V427.9H806.79V424.7H807.10V425.5H807.41V429.1H807.72V428.5H808.04V417.6H808.35V421.8H808.66V419.5H808.97V425.1H809.29V424.3H809.60V429.0H809.91V435.1H810.22V439.8H810.54V440.6H810.85V432.5H811.16V426.9H811.47V429.4H811.79V424.4H812.10V442.4H812.41V442.7H812.72V446.4H813.04V424.1H813.35V427.6H813.66V427.2H813.97V430.6H814.29V424.8H814.60V424.7H814.91V438.5H815.22V437.2H815.54V436.7H815.85V436.1H816.16V437.7H816.47V434.7H816.79V438.4H817.10V432.4H817.41V432.2H817.72V436.0H818.04V433.5H818.35V430.2H818.66V431.5H818.97V442.7H819.29V440.5H819.60V444.9H819.91V430.0H820.23V403.0H820.54V409.0H820.85V452.9H821.16V450.1H821.48V448.6H821.79V453.1H822.10V436.6H822.41V441.1H822.73V442.1H823.04V437.6H823.35V438.9H823.66V438.9H823.98V439.5H824.29V438.2H824.60V435.1H824.91V428.4H825.23V430.8H825.54V432.3H825.85V438.8H826.16V439.1H826.48V437.9H826.79V437.9H827.10V417.4H827.41V420.8H827.73V419.1H828.04V428.0H828.35V415.8H828.66V424.1H828.98V426.9H829.29V425.4H829.60V427.0H829.91V428.6H830.23V433.9H830.54V382.0H830.85V388.0H831.16V432.1H831.48V428.4H831.79V428.6H832.10V416.2H832.41V411.7H832.73V415.9H833.04V361.0H833.35V367.0H833.66V434.1H833.98V422.5H834.29V422.8H834.60V424.1H834.91V417.5H835.23V424.8H835.54V423.3H835.85V425.8H836.16V420.6H836.48V425.3H836.79V426.2H837.10V425.8H837.41V418.5H837.73V425.9H838.04V435.0H838.35V439.5H838.66V433.9H838.98V442.8H839.29V442.9H839.60V441.9H839.91V430.4H840.23V430.7H840.54V429.5H840.85V433.5H841.16V435.0H841.48V434.8H841.79V436.1H842.10V430.8H842.41V430.1H842.73V431.1H843.04V432.0H843.35V437.5H843.66V426.1H843.98V424.9H844.29V428.1H844.60V429.6H844.91V425.0H845.23V425.9H845.54V428.5H845.85V424.7H846.16V427.5H846.48V427.4H846.79V424.4H847.10V425.4H847.41V425.7H847.73V423.3H848.04V424.2H848.35V421.1H848.66V420.4H848.98V418.7H849.29V420.1H849.60V421.2H849.91V420.3H850.23V417.1H850.54V412.4H850.85V408.8H851.17V411.1H851.48V406.6H851.79V410.3H852.10V416.3H852.42V419.1H852.73V416.2H853.04V400.6H853.35V402.3H853.67V400.6H853.98V414.5H854.29V411.9H854.60V408.9H854.92V394.7H855.23V402.2H855.54V403.3H855.85V412.2H856.17V407.1H856.48V413.1H856.79V411.3H857.10V410.7H857.42V414.7H857.73V408.6H858.04V395.5H858.35V399.6H858.67V400.0H858.98V417.2H859.29V417.7H859.60V413.8H859.92V424.6H860.23V425.5H860.54V426.0H860.85V421.9H861.17V420.1H861.48V424.5H861.79V421.6H862.10V414.3H862.42V415.0H862.73V419.3H863.04V391.9H863.35V400.8H863.67V400.4H863.98V418.5H864.29V416.6H864.60V415.6H864.92V409.9H865.23V414.8H865.54V412.0H865.85V430.0H866.17V424.6H866.48V428.6H866.79V429.6H867.10V417.3H867.42V414.2H867.73V414.8H868.04V416.6H868.35V413.7H868.67V416.8H868.98V409.3H869.29V410.2H869.60V410.1H869.92V425.7H870.23V426.2H870.54V422.7H870.85V411.1H871.17V413.1H871.48V414.6H871.79V410.0H872.10V417.5H872.42V416.9H872.73V410.6H873.04V423.4H873.35V422.3H873.67V424.6H873.98V415.4H874.29V413.3H874.60V410.5H874.92V415.9H875.23V415.4H875.54V416.6H875.85V439.2H876.17V433.9H876.48V434.2H876.79V437.3H877.10V405.5H877.42V403.4H877.73V399.9H878.04V403.5H878.35V400.2H878.67V404.2H878.98V410.0H879.29V405.0H879.60V403.0H879.92V418.7H880.23V416.9H880.54V412.2H880.86V387.7H881.17V387.2H881.48V383.4H881.79V383.3H882.11V388.0H882.42V387.9H882.73V390.6H883.04V371.6H883.36V382.4H883.67V385.0H883.98V380.3H884.29V374.0H884.61V380.1H884.92V389.8H885.23V392.1H885.54V393.6H885.86V379.2H886.17V379.7H886.48V375.4H886.79V382.8H887.11V391.5H887.42V391.9H887.73V386.4H888.04V386.8H888.36V392.2H888.67V391.0H888.98V392.6H889.29V391.0H889.61V390.5H889.92V382.8H890.23V393.2H890.54V384.4H890.86V420.0H891.17V379.7H891.48V377.2H891.79V377.2H892.11V381.8H892.42V378.1H892.73V384.5H893.04V378.5H893.36V382.5H893.67V376.2H893.98V380.3H894.29V377.0H894.61V378.4H894.92V369.8H895.23V372.6H895.54V374.9H895.86V386.0H896.17V385.6H896.48V297.0H896.79V303.0H897.11V381.5H897.42V377.4H897.73V410.0H898.04V373.8H898.36V366.3H898.67V368.2H898.98V382.8H899.29V375.1H899.61V374.2H899.92V366.7H900.23V366.3H900.54V365.0H900.86V374.9H901.17V372.1H901.48V366.3H901.79V366.6H902.11V331.8H902.42V268.0H902.73V274.0H903.04V343.6H903.36V343.0H903.67V344.1H903.98V354.0H904.29V358.3H904.61V352.1H904.92V365.1H905.23V396.7H905.54V366.6H905.86V352.5H906.17V344.9H906.48V357.8H906.79V353.2H907.11V364.4H907.42V367.4H907.73V364.5H908.04V371.5H908.36V373.1H908.67V365.6H908.98V369.8H909.29V370.2H909.61V373.1H909.92V395.0H910.23V367.8H910.54V368.0H910.86V361.3H911.17V363.4H911.48V359.2H911.80V366.5H912.11V373.4H912.42V373.1H912.73V374.9H913.05V354.9H913.36V356.4H913.67V355.8H913.98V376.7H914.30V379.2H914.61V376.8H914.92V390.0H915.23V356.2H915.55V355.8H915.86V375.2H916.17V370.6H916.48V373.9H916.80V375.9H917.11V344.7H917.42V355.3H917.73V347.4H918.05V362.5H918.36V359.7H918.67V363.1H918.98V351.9H919.30V350.7H919.61V355.8H919.92V339.8H920.23V337.9H920.55V341.6H920.86V343.0H921.17V333.7H921.48V338.7H921.80V338.7H922.11V366.9H922.42V394.0H922.73V362.3H923.05V350.3H923.36V350.2H923.67V353.8H923.98V378.2H924.30V377.2H924.61V374.9H924.92V355.7H925.23V346.0H925.55V358.0H925.86V363.4H926.17V359.1H926.48V361.0H926.80V362.9H927.11V367.1H927.42V364.4H927.73V380.0H928.05V367.8H928.36V370.8H928.67V367.9H928.98V361.0H929.30V360.7H929.61V373.1H929.92V370.9H930.23V369.2H930.55V366.1H930.86V345.8H931.17V341.8H931.48V341.5H931.80V342.7H932.11V399.0H932.42V324.5H932.73V331.8H933.05V376.3H933.36V370.7H933.67V374.2H933.98V348.4H934.30V338.3H934.61V340.2H934.92V344.0H935.23V338.6H935.55V339.9H935.86V329.1H936.17V323.6H936.48V324.4H936.80V324.7H937.11V346.4H937.42V345.7H937.73V263.0H938.05V367.5H938.36V328.0H938.67V323.7H938.98V349.7H939.30V339.1H939.61V345.1H939.92V315.9H940.23V316.1H940.55V302.2H940.86V320.8H941.17V319.2H941.49V321.3H941.80V312.7H942.11V322.4H942.42V313.8H942.74V324.9H943.05V312.5H943.36V279.0H943.67V285.0H943.99V320.4H944.30V316.5H944.61V323.0H944.92V350.0H945.24V356.4H945.55V349.5H945.86V310.5H946.17V304.5H946.49V302.1H946.80V308.5H947.11V300.2H947.42V308.7H947.74V314.1H948.05V321.3H948.36V303.6H948.67V310.1H948.99V297.8H949.30V297.6H949.61V298.4H949.92V284.1H950.24V288.5H950.55V278.2H950.86V323.7H951.17V331.9H951.49V315.7H951.80V319.6H952.11V214.0H952.42V220.0H952.74V310.9H953.05V269.0H953.36V275.4H953.67V279.8H953.99V345.6H954.30V282.6H954.61V275.2H954.92V310.3H955.24V315.2H955.55V313.6H955.86V323.3H956.17V326.2H956.49V319.9H956.80V324.1H957.11V306.9H957.42V313.1H957.74V332.0H958.05V302.0H958.36V307.2H958.67V305.1H958.99V330.6H959.30V271.0H959.61V277.0H959.92V320.0H960.24V281.9H960.55V287.0H960.86V326.4H961.17V317.9H961.49V312.9H961.80V271.0H962.11V277.0H962.42V310.6H962.74V310.7H963.05V272.7H963.36V272.9H963.67V270.3H963.99V295.0H964.30V222.0H964.61V228.0H964.92V276.5H965.24V272.9H965.55V269.5H965.86V268.2H966.17V263.0H966.49V262.4H966.80V258.6H967.11V255.8H967.42V254.9H967.74V257.3H968.05V267.9H968.36V269.2H968.67V278.2H968.99V258.7H969.30V263.5H969.61V247.1H969.92V300.0H970.24V127.4H970.55V130.0H970.86V126.0H971.17V145.1H971.49V217.6H971.80V223.9H972.11V234.8H972.43V232.2H972.74V243.0H973.05V267.1H973.36V271.8H973.68V269.5H973.99V247.7H974.30V237.3H974.61V328.6H974.93V232.9H975.24V215.8H975.55V224.6H975.86V231.6H976.18V228.1H976.49V205.5H976.80V180.7H977.11V137.4H977.43V100.5H977.74V117.3H978.05V107.0H978.36V101.0H978.68V107.0H978.99V104.2H979.30V146.9H979.61V160.1H979.93V200.0H980.24V138.8H980.55V126.6H980.86V158.4H981.18V144.4H981.49V102.5H981.80V108.5H982.11V100.5H982.43V109.3H982.74V106.7H983.05V105.2H983.36V243.0H983.68V195.9H983.99V200.0H984.30V194.8H984.61V170.2H984.93V154.2H985.24V156.5H985.55V151.7H985.86V194.7H986.18V194.9H986.49V192.9H986.80V144.5H987.11V114.1H987.43V190.0H987.74V139.7H988.05V120.0H988.36V126.0H988.68V161.2H988.99V172.8H989.30V177.1H989.61V139.1H989.93V128.1H990.24V114.0H990.55V122.0H990.86V117.8H991.18V123.8H991.49V146.3H991.80V180.0H992.11V125.4H992.43V153.1H992.74V150.1H993.05V150.7H993.36V154.9H993.68V149.5H993.99V138.3H994.30V149.1H994.61V190.2H994.93V204.2H995.24V205.5H995.55V194.1H995.86V215.9H996.18V170.2H996.49V167.8H996.80V170.8H997.11V207.6H997.43V213.0H997.74V226.6H998.05V222.3H998.36V227.9H998.68V180.6H998.99V156.1H999.30V147.6H999.61V158.7H999.93V167.5H1000.24V126.8H1000.55V100.5H1000.86V225.0H1001.18V134.6H1001.49V127.3H1001.80V142.5H1002.11V129.6H1002.43V100.5H1002.74V108.0H1003.05V109.8H1003.37V101.0H1003.68V107.0H1003.99V524.6Z" fill="#17965f"/>
<g font-family="Liberation Sans, Arial, sans-serif" font-size="12.3" fill="#333"><text x="47.9" y="527.6" text-anchor="end">0</text><text x="47.9" y="492.0" text-anchor="end">50K</text><text x="47.9" y="456.4" text-anchor="end">100K</text><text x="47.9" y="420.8" text-anchor="end">150K</text><text x="47.9" y="385.1" text-anchor="end">200K</text><text x="47.9" y="349.5" text-anchor="end">250K</text><text x="47.9" y="313.9" text-anchor="end">300K</text><text x="47.9" y="278.3" text-anchor="end">350K</text><text x="47.9" y="242.7" text-anchor="end">400K</text><text x="47.9" y="207.0" text-anchor="end">450K</text><text x="47.9" y="171.4" text-anchor="end">500K</text><text x="47.9" y="135.8" text-anchor="end">550K</text><text x="47.9" y="100.2" text-anchor="end">600K</text></g>
<g font-family="Liberation Sans, Arial, sans-serif" font-size="10.2" fill="#777"><line x1="68.4" y1="525.3" x2="68.4" y2="531.3" stroke="#e0e0e0" stroke-width="1"/><text x="68.4" y="544.3" text-anchor="middle">2018</text><line x1="182.6" y1="525.3" x2="182.6" y2="531.3" stroke="#e0e0e0" stroke-width="1"/><text x="182.6" y="544.3" text-anchor="middle">2019</text><line x1="296.7" y1="525.3" x2="296.7" y2="531.3" stroke="#e0e0e0" stroke-width="1"/><text x="296.7" y="544.3" text-anchor="middle">2020</text><line x1="410.9" y1="525.3" x2="410.9" y2="531.3" stroke="#e0e0e0" stroke-width="1"/><text x="410.9" y="544.3" text-anchor="middle">2021</text><line x1="525.0" y1="525.3" x2="525.0" y2="531.3" stroke="#e0e0e0" stroke-width="1"/><text x="525.0" y="544.3" text-anchor="middle">2022</text><line x1="639.1" y1="525.3" x2="639.1" y2="531.3" stroke="#e0e0e0" stroke-width="1"/><text x="639.1" y="544.3" text-anchor="middle">2023</text><line x1="753.3" y1="525.3" x2="753.3" y2="531.3" stroke="#e0e0e0" stroke-width="1"/><text x="753.3" y="544.3" text-anchor="middle">2024</text><line x1="867.5" y1="525.3" x2="867.5" y2="531.3" stroke="#e0e0e0" stroke-width="1"/><text x="867.5" y="544.3" text-anchor="middle">2025</text><line x1="981.6" y1="525.3" x2="981.6" y2="531.3" stroke="#e0e0e0" stroke-width="1"/><text x="981.6" y="544.3" text-anchor="middle">2026</text></g>
<line x1="57.6" y1="80" x2="57.6" y2="524.8" stroke="#2f7d68" stroke-width="1.5"/>
<rect x="22.5" y="182.8" width="35" height="24.4" fill="#17965f"/>
<text x="40.2" y="199.9" text-anchor="middle" font-family="Liberation Sans, Arial, sans-serif" font-size="12.5" fill="#f2fff7">459K</text>
<text x="870.3" y="561.7" textLength="128.6" lengthAdjust="spacingAndGlyphs" font-family="Liberation Sans, Arial, sans-serif" font-size="9.6" fill="#6a6a6a">© CryptoQuant. All rights reserved</text>
</svg>
</body></html>
